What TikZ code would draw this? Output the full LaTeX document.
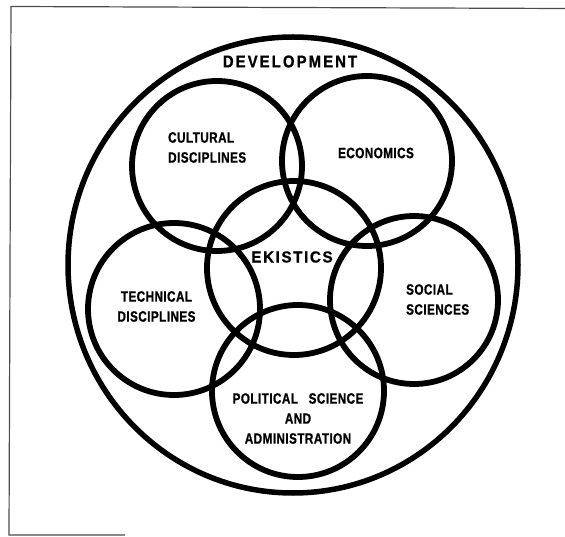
\documentclass[tikz,border=0pt]{standalone}
\usepackage{fontspec}
\usetikzlibrary{shapes.geometric}
\newfontfamily\labfont{Liberation Sans}[FakeStretch=0.78,LetterSpace=3,FakeBold=0.8]
\newfontfamily\devfont{Liberation Sans}[FakeStretch=0.88,LetterSpace=12,FakeBold=0.8]
\newfontfamily\ekifont{Liberation Sans}[FakeStretch=0.95,LetterSpace=10,FakeBold=0.8]
\tikzset{
  ring/.style={circle,draw=black,line width=5.8pt,inner sep=0pt},
  bigring/.style={ellipse,draw=black,line width=5.5pt,inner sep=0pt},
  lab/.style={font=\labfont\bfseries\fontsize{15}{20}\selectfont,inner sep=0pt,text=black},
  framefine/.style={draw=black!70,line width=1.2pt}
}
\begin{document}
\begin{tikzpicture}[x=1pt,y=-1pt]
\useasboundingbox (0,0) rectangle (565,537);
% frame
\coordinate (f1) at (565,8.5);
\coordinate (f2) at (11,6.5);
\coordinate (f3) at (9,535);
\coordinate (f4) at (125,535);
\draw[framefine] (f1) -- (f2) -- (f3) -- (f4);
% outer ring
\node[bigring,minimum width=450pt,minimum height=456pt] (dev) at (293,265) {};
% discipline rings
\node[ring,minimum size=170pt] (cul) at (217,166) {};
\node[ring,minimum size=170pt] (eco) at (367,161) {};
\node[ring,minimum size=174pt] (eki) at (294,268) {};
\node[ring,minimum size=172pt] (tec) at (174,309) {};
\node[ring,minimum size=168pt] (soc) at (414,300) {};
\node[ring,minimum size=172pt] (pol) at (298,391) {};
% labels
\node[font=\devfont\bfseries\fontsize{17}{20}\selectfont,inner sep=0pt] (devl) at (290,61.5) {DEVELOPMENT};
\node[lab,align=left,anchor=west] (cull) at (168,147.5) {CULTURAL\\DISCIPLINES};
\node[lab] (ecol) at (376,153) {ECONOMICS};
\node[font=\ekifont\bfseries\fontsize{16}{20}\selectfont,inner sep=0pt] (ekil) at (292,257) {EKISTICS};
\node[lab,align=center] (tecl) at (156.5,306.5) {TECHNICAL\\DISCIPLINES};
\node[lab,align=left,anchor=west] (socl) at (406,299.5) {SOCIAL\\SCIENCES};
\node[lab,align=center] (poll) at (298,418.5) {POLITICAL\hspace{7pt} SCIENCE\\AND\\ADMINISTRATION};
\end{tikzpicture}
\end{document}
